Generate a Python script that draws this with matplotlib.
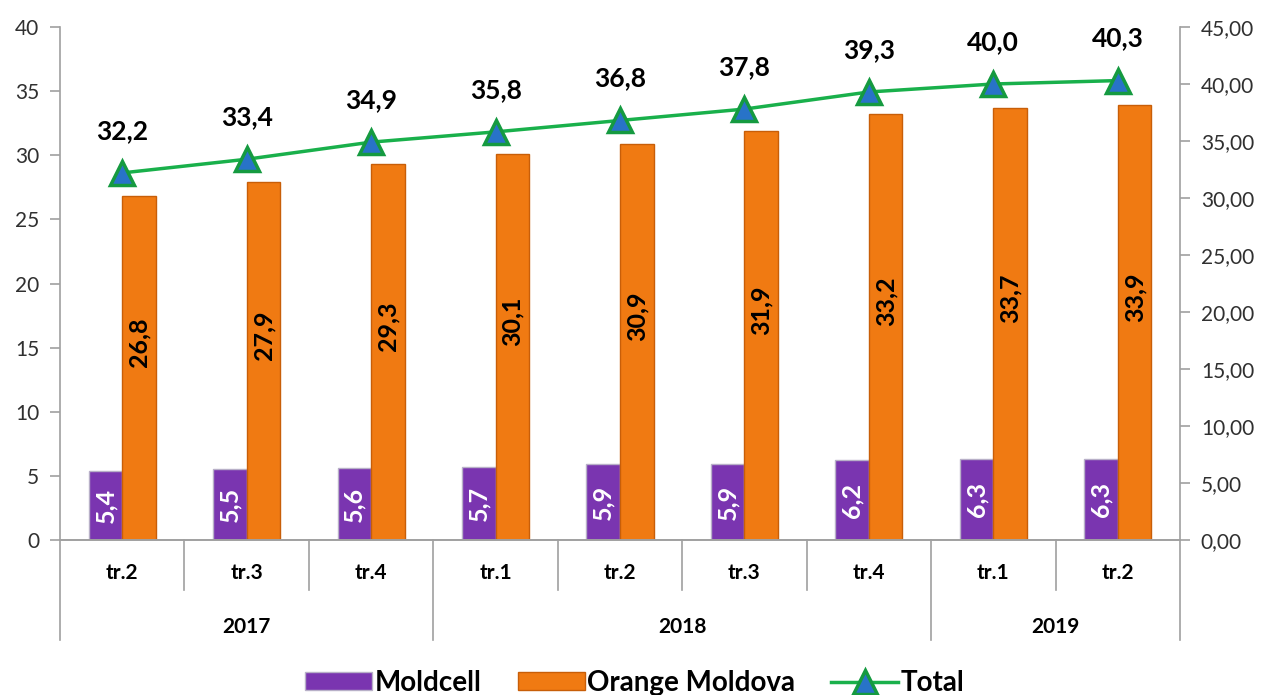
import matplotlib
matplotlib.use('Agg')
import matplotlib.pyplot as plt
from matplotlib.patches import Patch
from matplotlib.lines import Line2D
import numpy as np

plt.rcParams['font.family'] = ['Lato', 'DejaVu Sans']

quarters = ['tr.2', 'tr.3', 'tr.4', 'tr.1', 'tr.2', 'tr.3', 'tr.4', 'tr.1', 'tr.2']
years = ['2017', '2018', '2019']
year_spans = [(0, 2), (3, 6), (7, 8)]
moldcell = [5.4, 5.5, 5.6, 5.7, 5.9, 5.9, 6.2, 6.3, 6.3]
orange = [26.8, 27.9, 29.3, 30.1, 30.9, 31.9, 33.2, 33.7, 33.9]
total = [32.2, 33.4, 34.9, 35.8, 36.8, 37.8, 39.3, 40.0, 40.3]

def fmt(v, d=1):
    return ('%.*f' % (d, v)).replace('.', ',')

c_mold = '#7A35B0'
c_orange = '#F07A12'
c_line = '#19B04B'
c_mark = '#2873C8'
grey = '#A0A0A0'

fig = plt.figure(figsize=(12.7, 6.95), dpi=100)
ax = fig.add_axes([60/1270, 155/695, 1120/1270, 513/695])
ax2 = ax.twinx()

x = np.arange(len(quarters))
w = 0.27
b1 = ax.bar(x - w/2, moldcell, w, color=c_mold, edgecolor='#B8B0C8', linewidth=1.0, zorder=2)
b2 = ax.bar(x + w/2, orange, w, color=c_orange, edgecolor='#C85E08', linewidth=1.0, zorder=2)

for xi, v in zip(x, moldcell):
    ax.text(xi - w/2, v/2, fmt(v), rotation=90, ha='center', va='center',
            color='white', fontsize=18, fontweight='bold', zorder=3)
for xi, v in zip(x, orange):
    ax.text(xi + w/2, v/2 + 2, fmt(v), rotation=90, ha='center', va='center',
            color='black', fontsize=18, fontweight='bold', zorder=3)

ax.set_xlim(-0.5, len(quarters) - 0.5)
ax.set_ylim(0, 40)
ax.set_yticks(range(0, 41, 5))
ax.set_xticks([])
ax2.set_ylim(0, 45)
ax2.set_yticks(range(0, 46, 5))
ax2.set_yticklabels([fmt(t, 2) for t in range(0, 46, 5)])

ax2.plot(x, total, color=c_line, lw=2.5, marker='^', markersize=17,
         markerfacecolor=c_mark, markeredgecolor='#159A40', markeredgewidth=2.5, zorder=5)
for xi, v in zip(x, total):
    ax2.annotate(fmt(v), (xi, v), xytext=(0, 42), textcoords='offset pixels',
                 ha='center', va='center', fontsize=19, fontweight='bold')

for a in (ax, ax2):
    a.spines['top'].set_visible(False)
    for s in ('left', 'right', 'bottom'):
        a.spines[s].set_color(grey)
        a.spines[s].set_linewidth(1.2)
    a.tick_params(axis='y', direction='out', length=7, color=grey, labelsize=15,
                  labelcolor='#303030', width=1.2)
ax.spines['right'].set_visible(False)
ax2.spines['left'].set_visible(False)
ax.tick_params(axis='y', pad=8)
ax2.tick_params(axis='y', pad=8)

# category axis with two levels
tr = ax.get_xaxis_transform()
year_edges = [-0.5] + [e + 0.5 for s, e in year_spans]
for i in range(len(quarters) + 1):
    xe = i - 0.5
    y1 = -0.195 if xe in year_edges else -0.0975
    ax.plot([xe, xe], [0, y1], transform=tr, color=grey, lw=1.2, clip_on=False)
for xi, q in zip(x, quarters):
    ax.text(xi, -0.064, q, transform=tr, ha='center', va='center', fontsize=15, fontweight='bold')
for (s, e), yr in zip(year_spans, years):
    ax.text((s + e) / 2, -0.17, yr, transform=tr, ha='center', va='center', fontsize=15, fontweight='bold')

handles = [Patch(facecolor=c_mold, edgecolor='#B8B0C8'),
           Patch(facecolor=c_orange, edgecolor='#C85E08'),
           Line2D([0], [0], color=c_line, lw=2.5, marker='^', markersize=17,
                  markerfacecolor=c_mark, markeredgecolor='#159A40', markeredgewidth=2.5)]
fig.legend(handles, ['Moldcell', 'Orange Moldova', 'Total'], loc='center',
           bbox_to_anchor=(0.5, 12/695), ncol=3, frameon=False,
           prop={'size': 20, 'weight': 'bold'},
           handlelength=2.4, handleheight=0.6, handletextpad=0.1, columnspacing=1.3)

fig.savefig('out.png', dpi=100)
